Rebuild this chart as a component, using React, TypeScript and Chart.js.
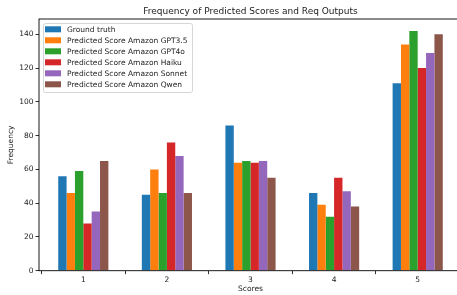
import React, { useEffect, useRef } from "react";
import { Chart, registerables } from "chart.js";

Chart.register(...registerables);

const categories = [1, 2, 3, 4, 5];
const tickLabels = ["1", "2", "3", "4", "5"];
const groundTruth = [56, 45, 86, 46, 111];
const gpt35 = [46, 60, 64, 39, 134];
const gpt4o = [59, 46, 65, 32, 142];
const haiku = [28, 76, 64, 55, 120];
const sonnet = [35, 68, 65, 47, 129];
const qwen = [65, 46, 55, 38, 140];
const seriesNames = [
  "Ground truth",
  "Predicted Score Amazon GPT3.5",
  "Predicted Score Amazon GPT4o",
  "Predicted Score Amazon Haiku",
  "Predicted Score Amazon Sonnet",
  "Predicted Score Amazon Qwen",
];
const seriesColors = ["#1f77b4", "#ff7f0e", "#2ca02c", "#d62728", "#9467bd", "#8c564b"];
const yTicks = [0, 20, 40, 60, 80, 100, 120, 140];
const titleText = "Frequency of Predicted Scores and Req Outputs";
const xLabel = "Scores";
const yLabel = "Frequency";

const FONT = "'DejaVu Sans', sans-serif";
const TXT = "#222";

export default function App() {
  const ref = useRef<HTMLCanvasElement>(null);
  useEffect(() => {
    const all = [groundTruth, gpt35, gpt4o, haiku, sonnet, qwen];
    const datasets = all.map((arr, i) => ({
      label: seriesNames[i],
      data: arr.map((v, j) => ({ x: categories[j], y: v })),
      backgroundColor: seriesColors[i],
      borderWidth: 0,
      categoryPercentage: 0.6,
      barPercentage: 1.0,
    }));

    const overlay = {
      id: "overlay",
      afterDraw(chart: any) {
        const ctx = chart.ctx;
        const a = chart.chartArea;
        ctx.save();
        ctx.strokeStyle = "#000";
        ctx.lineWidth = 0.9;
        ctx.strokeRect(a.left, a.top, a.right - a.left, a.bottom - a.top);
        ctx.fillStyle = TXT;
        ctx.font = `9px ${FONT}`;
        ctx.textAlign = "center";
        ctx.textBaseline = "middle";
        const cx = (a.left + a.right) / 2;
        ctx.fillText(titleText, cx, 12);
        ctx.font = `7.5px ${FONT}`;
        ctx.fillText(xLabel, cx, 289.5);
        ctx.save();
        ctx.translate(11.5, (a.top + a.bottom) / 2);
        ctx.rotate(-Math.PI / 2);
        ctx.fillText(yLabel, 0, 0);
        ctx.restore();
        const lx = 43, ly = 23, lw = 149, lh = 69;
        ctx.fillStyle = "rgba(255,255,255,0.8)";
        ctx.strokeStyle = "#cccccc";
        ctx.lineWidth = 0.8;
        ctx.beginPath();
        ctx.roundRect(lx + 0.5, ly + 0.5, lw, lh, 2);
        ctx.fill();
        ctx.stroke();
        ctx.font = `7.5px ${FONT}`;
        ctx.textAlign = "left";
        ctx.textBaseline = "middle";
        seriesNames.forEach((name, i) => {
          const yc = ly + 6.3 + i * 11;
          ctx.fillStyle = seriesColors[i];
          ctx.fillRect(lx + 2, yc - 3, 16, 6);
          ctx.fillStyle = TXT;
          ctx.fillText(name, lx + 24, yc + 0.3);
        });
        ctx.restore();
      },
    };

    const chart = new Chart(ref.current!, {
      type: "bar",
      data: { datasets },
      options: {
        animation: false,
        responsive: false,
        maintainAspectRatio: false,
        layout: { padding: { top: 19, left: 0, right: 0, bottom: 0 } },
        plugins: { legend: { display: false }, title: { display: false }, tooltip: { enabled: false } },
        scales: {
          x: {
            type: "linear",
            min: 0.47,
            max: 5.53,
            offset: false,
            afterBuildTicks: (s: any) => {
              s.ticks = categories.map((v) => ({ value: v }));
            },
            afterFit: (s: any) => {
              s.height = 24.3;
            },
            grid: { display: true, drawOnChartArea: false, drawTicks: true, tickLength: 3.5, color: "#000", lineWidth: 0.8 },
            border: { display: false },
            ticks: {
              color: TXT,
              font: { family: FONT, size: 7.5 },
              padding: 1.5,
              callback: (v: any) => {
                const i = categories.indexOf(v);
                return i >= 0 ? tickLabels[i] : "";
              },
            },
          },
          y: {
            min: 0,
            max: 149.1,
            afterBuildTicks: (s: any) => {
              s.ticks = yTicks.map((v) => ({ value: v }));
            },
            afterFit: (s: any) => {
              s.width = 39;
            },
            grid: { display: true, drawOnChartArea: false, drawTicks: true, tickLength: 3.5, color: "#000", lineWidth: 0.8 },
            border: { display: false },
            ticks: { color: TXT, font: { family: FONT, size: 7.5 }, padding: 2 },
          },
        },
      },
      plugins: [overlay],
    } as any);
    return () => chart.destroy();
  }, []);

  return (
    <div style={{ position: "absolute", left: 0, top: 0, width: 457, height: 295, overflow: "hidden", background: "#fff" }}>
      <canvas ref={ref} width={462} height={295} style={{ width: 462, height: 295, display: "block" }} />
    </div>
  );
}
